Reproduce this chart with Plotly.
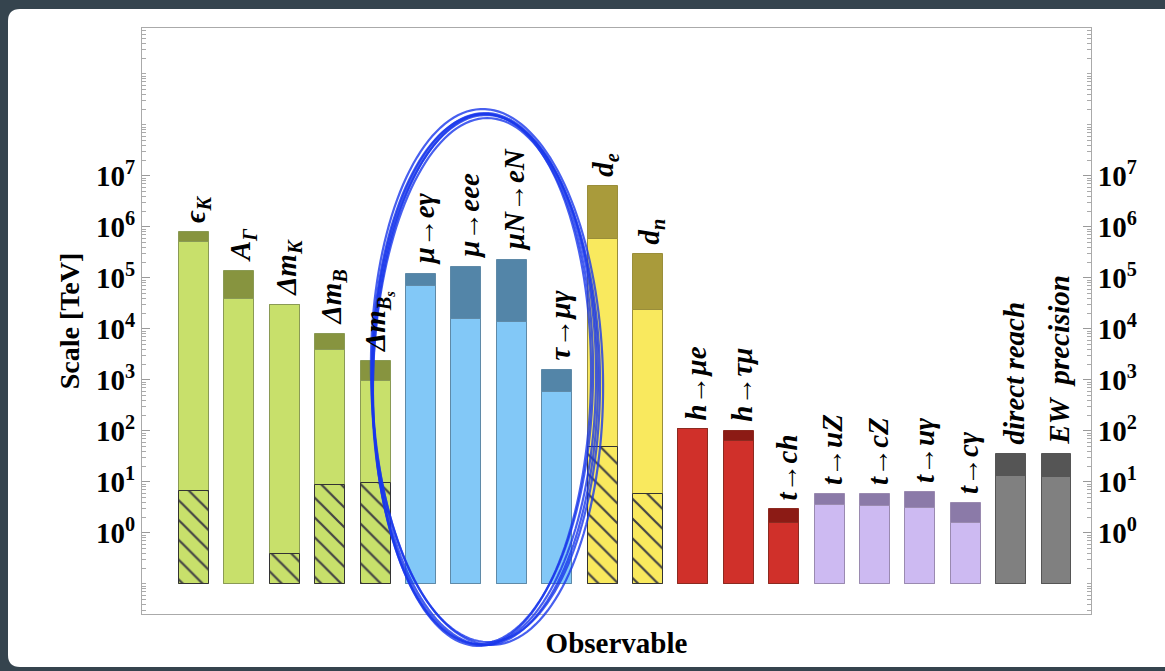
import numpy as np
import plotly.graph_objects as go

# ---------------- data ----------------
labels = ["ϵ<sub>K</sub>", "A<sub>Γ</sub>", "Δm<sub>K</sub>", "Δm<sub>B</sub>",
          "Δm<sub>B<sub>s</sub></sub>", "μ→eγ", "μ→eee", "μN→eN", "τ→μγ",
          "d<sub>e</sub>", "d<sub>n</sub>", "h→μe", "h→τμ", "t→ch",
          "t→uZ", "t→cZ", "t→uγ", "t→cγ", "direct reach", "EW  precision"]
total = [8.1e5, 1.37e5, 3.0e4, 8.0e3, 2.35e3, 1.2e5, 1.6e5, 2.25e5, 1.58e3,
         6.3e6, 3.0e5, 108, 100, 2.9, 5.8, 5.8, 6.4, 3.9, 35.5, 35]
inner = [5.0e5, 3.9e4, 3.0e4, 3.9e3, 970, 6.8e4, 1.55e4, 1.37e4, 590,
         5.9e5, 2.3e4, 108, 64, 1.6, 3.6, 3.3, 3.1, 1.6, 13.3, 12.3]
hatch = [6.6, None, 0.38, 8.7, 9.7, None, None, None, None,
         49, 5.8, None, None, None, None, None, None, None, None, None]
groups = ["flavor"] * 5 + ["lfv"] * 4 + ["edm"] * 2 + ["higgs"] * 3 + ["top"] * 4 + ["ref"] * 2
bar_base = 0.1
yticks = [1, 10, 100, 1e3, 1e4, 1e5, 1e6, 1e7]
ytick_text = ["10<sup>%d</sup>" % k for k in range(8)]

light_col = {"flavor": "#c8e06b", "lfv": "#82c8f7", "edm": "#f9e95e",
             "higgs": "#d0302a", "top": "#cdbaf2", "ref": "#808080"}
dark_col = {"flavor": "#87943f", "lfv": "#5385a8", "edm": "#a99b3b",
            "higgs": "#8c1b15", "top": "#8b7aa8", "ref": "#555555"}
edge_col = {"flavor": "#8a9a55", "lfv": "#5f8aa8", "edm": "#9a8e3a",
            "higgs": "#8c2a20", "top": "#9a8ab0", "ref": "#555555"}

x = np.arange(len(labels))
light = [light_col[g] for g in groups]
dark = [dark_col[g] for g in groups]
edges = [edge_col[g] for g in groups]

W, H = 1165, 671
L, R, T, B = 142, 1091, 28, 614
bw = 0.66

fig = go.Figure()
fig.add_trace(go.Bar(x=x, y=[v - bar_base for v in total], base=bar_base, width=bw,
                     marker=dict(color=dark, line=dict(color=edges, width=1)),
                     hoverinfo="skip", showlegend=False))
fig.add_trace(go.Bar(x=x, y=[v - bar_base for v in inner], base=bar_base, width=bw,
                     marker=dict(color=light, line=dict(color=edges, width=1)),
                     hoverinfo="skip", showlegend=False))
fig.add_trace(go.Bar(x=x, y=[(v - bar_base) if v is not None else None for v in hatch],
                     base=bar_base, width=bw,
                     marker=dict(color=light, line=dict(color="#333333", width=1),
                                 pattern=dict(shape="\\", fgcolor="black", fgopacity=1,
                                              size=14, solidity=0.16)),
                     hoverinfo="skip", showlegend=False))
# invisible trace so the right axis is drawn
fig.add_trace(go.Scatter(x=[0], y=[1], yaxis="y2", mode="markers",
                         marker=dict(opacity=0), hoverinfo="skip", showlegend=False))

# labels above bars
for i, lab in enumerate(labels):
    fig.add_annotation(x=x[i], y=np.log10(total[i]), text=lab, textangle=-90,
                       showarrow=False, xanchor="center", yanchor="bottom",
                       yshift=7, xshift=3,
                       font=dict(family="Liberation Serif", size=29, color="black",
                                 weight="bold", style="italic"))

# frame: white rounded card on dark background
def px2paper(px, py):
    return (px - L) / (R - L), (B - py) / (B - T)

x0, y0 = px2paper(8, 9)
x1, y1 = px2paper(1200, 667)
rx = 12 / (R - L)
ry = 12 / (B - T)
card = (f"M {x0 + rx} {y0} L {x1} {y0} L {x1} {y1} L {x0 + rx} {y1} "
        f"Q {x0} {y1} {x0} {y1 + ry} L {x0} {y0 - ry} Q {x0} {y0} {x0 + rx} {y0} Z")
fig.add_shape(type="path", path=card, xref="paper", yref="paper",
              fillcolor="white", line=dict(width=0), layer="below")

# hand-drawn blue ellipse (decoration)
strokes = [(485, 379, 113, 266, 0.00), (483, 381, 110, 263, 0.02),
           (487, 377, 116, 268, -0.02), (484, 380, 112, 265, 0.01),
           (486, 378, 114, 264, -0.01), (482, 380, 109, 266, 0.015)]
for cx, cy, a, b, rot in strokes:
    t = np.linspace(0, 2 * np.pi, 160)
    ex = a * np.cos(t)
    ey = b * np.sin(t)
    pxs = cx + ex * np.cos(rot) - ey * np.sin(rot)
    pys = cy + ex * np.sin(rot) + ey * np.cos(rot)
    pts = [px2paper(u, v) for u, v in zip(pxs, pys)]
    path = "M " + " L ".join(f"{p:.5f},{q:.5f}" for p, q in pts) + " Z"
    fig.add_shape(type="path", path=path, xref="paper", yref="paper",
                  line=dict(color="rgba(25,55,235,0.8)", width=2.2), layer="above")

yrange = [-1.59, 9.9]
axis_common = dict(type="log", range=yrange, tickvals=yticks, ticktext=ytick_text,
                   ticks="inside", ticklen=8, tickcolor="#999999", tickwidth=1,
                   showgrid=False, zeroline=False, showline=True, linecolor="#aaaaaa",
                   linewidth=1,
                   tickfont=dict(family="Liberation Serif", size=29, color="black",
                                 weight="bold"),
                   minor=dict(ticks="inside", ticklen=4, tickcolor="#aaaaaa",
                              dtick="D1", showgrid=False))

fig.update_layout(
    width=W, height=H,
    margin=dict(l=L, r=W - R, t=T, b=H - B),
    paper_bgcolor="#35444e", plot_bgcolor="white",
    barmode="overlay", bargap=0,
    xaxis=dict(range=[-1.145, 19.76], showticklabels=False, ticks="",
               showgrid=False, zeroline=False, showline=True, mirror=True,
               linecolor="#aaaaaa", linewidth=1,
               title=dict(text="Observable", standoff=18,
                          font=dict(family="Liberation Serif", size=29,
                                    color="black", weight="bold"))),
    yaxis=dict(**axis_common, mirror=True,
               title=dict(text="Scale [TeV]", standoff=8,
                          font=dict(family="Liberation Serif", size=28,
                                    color="black", weight="bold"))),
    yaxis2=dict(**axis_common, overlaying="y", side="right"),
)

fig.write_html("out.html")
